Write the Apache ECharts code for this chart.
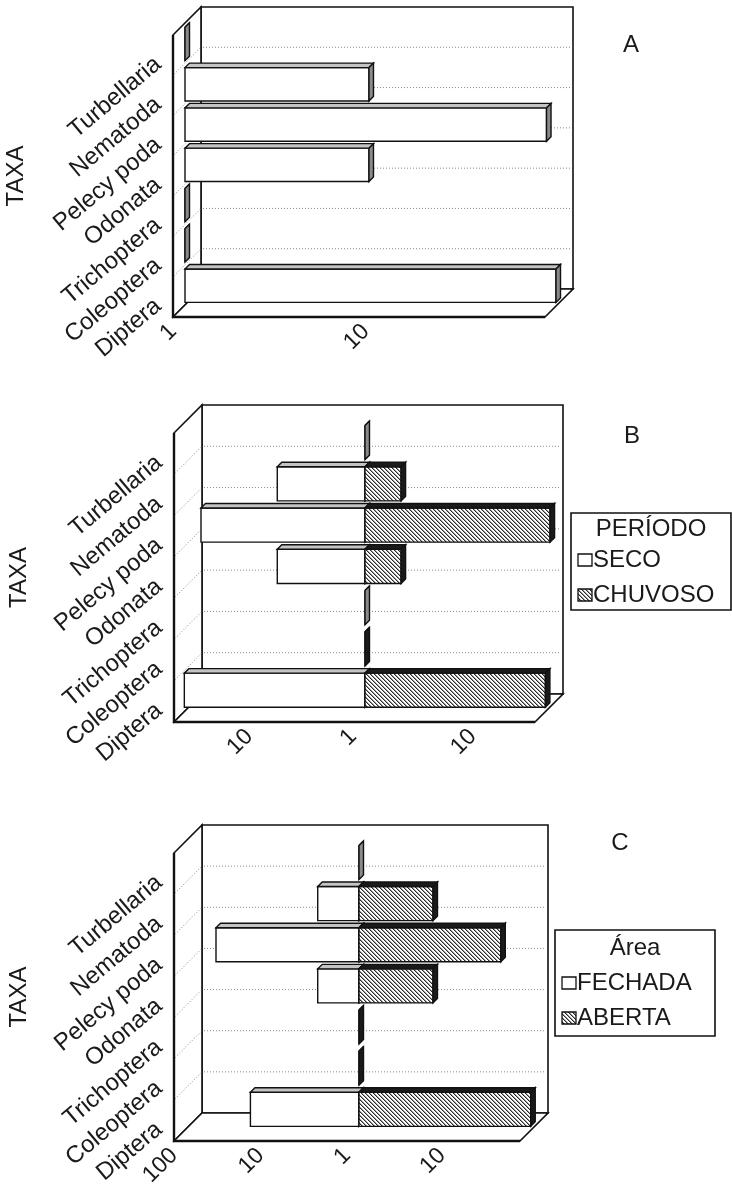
<!DOCTYPE html>
<html><head><meta charset="utf-8">
<script src="https://cdn.jsdelivr.net/npm/echarts@6/dist/echarts.min.js"></script>
<style>html,body{margin:0;padding:0;background:#fff}#c{width:732px;height:1189px}</style>
</head><body><div id="c"></div>
<script>
// ---------- data ----------
const taxa = ['Turbellaria', 'Nematoda', 'Pelecy poda', 'Odonata', 'Trichoptera', 'Coleoptera', 'Diptera'];
const totalA  = [1, 9, 75, 9, 1, 1, 84];
const seco    = [1, 7, 38, 7, 1, 0, 55];
const chuvoso = [0, 2, 35, 2, 0, 1, 32];
const fechada = [1, 3, 45, 3, 0, 0, 18];
const aberta  = [0, 6, 31, 6, 1, 1, 64];
const ticksA = [1, 10];
const ticksBLeft = [10];
const ticksBRight = [1, 10];
const ticksCLeft = [100, 10];
const ticksCRight = [1, 10];
const legendB = ['PERÍODO', 'SECO', 'CHUVOSO'];
const legendC = ['Área', 'FECHADA', 'ABERTA'];
const panelNames = ['A', 'B', 'C'];
const axisName = 'TAXA';

// ---------- layout ----------
const FONT = "'Liberation Sans', Arial, sans-serif";
const DEPTH = 28;          // wall depth (px)
const BAR_OFF = 12;        // bar front plane offset
const BAR_D = 4.5;         // bar depth
const PA = {L: 173, T: 35, R: 545, B: 317};
const PB = {L: 174, T: 433, M: 353, R: 535, B: 722};
const PC = {L: 174, T: 853, M: 347, R: 520, B: 1141};
const AX = {A: 85, BL: 53, BR: 33, CL: 100, CR: 66};

function hatch() {
  const c = document.createElement('canvas');
  c.width = 4; c.height = 4;
  const g = c.getContext('2d');
  g.fillStyle = '#fff'; g.fillRect(0, 0, 4, 4);
  g.fillStyle = '#2a2a2a';
  for (let i = 0; i < 4; i++) g.fillRect(i, i, 1, 1);
  g.fillStyle = '#9a9a9a';
  for (let i = 0; i < 4; i++) g.fillRect((i + 1) % 4, i, 1, 1);
  return c;
}
const HATCH = {image: hatch(), repeat: 'repeat'};

const STY = {
  plain: {front: '#fff', top: '#c4c4c4', side: '#8a8a8a'},
  dark:  {front: HATCH,  top: '#1a1a1a', side: '#1a1a1a'}
};

function grid(l, t, r, b) {
  return {left: l, top: t, width: r - l, height: b - t, containLabel: false, outerBoundsMode: 'none'};
}
function tickFmt(list) {
  return v => list.some(t => Math.abs(v - t) < 1e-6 * t) ? String(Math.round(v)) : '';
}
function hiddenX(gi) { return {type: 'value', gridIndex: gi, min: 0, max: 1, show: false}; }
function logX(gi, max, inverse, ticks) {
  return {
    type: 'log', logBase: 10, gridIndex: gi, min: 1, max: max, inverse: inverse,
    axisLine: {show: false}, axisTick: {show: false}, splitLine: {show: false},
    axisLabel: {show: true, rotate: 45, margin: 11, fontSize: 23, color: '#1a1a1a',
      fontFamily: FONT, formatter: tickFmt(ticks)}
  };
}
function catY(gi, labels) {
  const base = {type: 'category', gridIndex: gi, data: taxa, inverse: true,
    axisLine: {show: false}, axisTick: {show: false}, splitLine: {show: false}};
  if (!labels) return Object.assign(base, {axisLabel: {show: false}});
  return Object.assign(base, {
    axisLabel: {show: true, rotate: 40, margin: 20, fontSize: 24, lineHeight: 16,
      formatter: v => '\n' + v,
      color: '#1a1a1a', fontFamily: FONT, interval: 0},
    name: axisName, nameLocation: 'middle', nameRotate: 90, nameGap: 143,
    nameTextStyle: {fontSize: 24, color: '#1a1a1a', fontFamily: FONT}
  });
}

function frameRender(params, api) {
  const cs = params.coordSys;
  const L = cs.x, T = cs.y, R = cs.x + cs.width, B = cs.y + cs.height, D = DEPTH;
  const bh = cs.height / taxa.length;
  const wall = {fill: '#fff', stroke: '#111', lineWidth: 1.6};
  const dot = {stroke: '#8a8a8a', lineWidth: 1, lineDash: [1, 2]};
  const ch = [];
  ch.push({type: 'rect', shape: {x: L + D, y: T - D, width: R - L, height: B - T}, style: wall});
  for (let k = 1; k < taxa.length; k++) {
    const y = T + k * bh - D;
    ch.push({type: 'line', shape: {x1: L + D + 2, y1: y, x2: R + D - 2, y2: y}, style: dot});
  }
  ch.push({type: 'polygon', shape: {points: [[L, T], [L + D, T - D], [L + D, B - D], [L, B]]}, style: wall});
  for (let k = 1; k < taxa.length; k++) {
    const y = T + k * bh;
    ch.push({type: 'line', shape: {x1: L + 1, y1: y - 1, x2: L + D - 1, y2: y - D + 1}, style: dot});
  }
  ch.push({type: 'polygon', shape: {points: [[L, B], [L + D, B - D], [R + D, B - D], [R, B]]}, style: wall});
  ch.push({type: 'line', shape: {x1: L, y1: T, x2: L, y2: B}, style: {stroke: '#111', lineWidth: 2.4}});
  ch.push({type: 'line', shape: {x1: L, y1: B, x2: R, y2: B}, style: {stroke: '#111', lineWidth: 2.4}});
  return {type: 'group', children: ch};
}

function barRender(sty) {
  return function (params, api) {
    const v = api.value(0), i = api.value(1);
    const cs = params.coordSys;
    const bh = cs.height / taxa.length;
    const p0 = api.coord([1, i]);
    const p1 = api.coord([v, i]);
    const cy = p0[1] - BAR_OFF;
    const fTop = cy - 0.393 * bh, fBot = cy + 0.435 * bh;
    const xa = Math.min(p0[0], p1[0]) + BAR_OFF, xb = Math.max(p0[0], p1[0]) + BAR_OFF;
    const d = BAR_D;
    const line = {stroke: '#111', lineWidth: 1.4};
    return {type: 'group', children: [
      {type: 'rect', shape: {x: xa, y: fTop, width: xb - xa, height: fBot - fTop},
        style: Object.assign({fill: sty.front}, line)},
      {type: 'polygon', shape: {points: [[xa, fTop], [xb, fTop], [xb + d, fTop - d], [xa + d, fTop - d]]},
        style: Object.assign({fill: sty.top}, line)},
      {type: 'polygon', shape: {points: [[xb, fTop], [xb + d, fTop - d], [xb + d, fBot - d], [xb, fBot]]},
        style: Object.assign({fill: sty.side}, line)}
    ]};
  };
}
function pts(arr) {
  const out = [];
  arr.forEach((v, i) => { if (v > 0) out.push([v, i]); });
  return out;
}
function frameSeries(ai) {
  return {type: 'custom', xAxisIndex: ai, yAxisIndex: ai, data: [[0, 0]], renderItem: frameRender, silent: true, z: 1};
}
function barSeries(ai, arr, sty, name) {
  return {type: 'custom', name: name, xAxisIndex: ai, yAxisIndex: ai, data: pts(arr),
    encode: {x: 0, y: 1}, renderItem: barRender(sty), silent: true, z: 2, clip: false};
}

const grids = [
  grid(PA.L, PA.T, PA.R, PA.B), grid(PA.L, PA.T, PA.R, PA.B),
  grid(PB.L, PB.T, PB.R, PB.B), grid(PB.L, PB.T, PB.M, PB.B), grid(PB.M, PB.T, PB.R, PB.B),
  grid(PC.L, PC.T, PC.R, PC.B), grid(PC.L, PC.T, PC.M, PC.B), grid(PC.M, PC.T, PC.R, PC.B)
];
const xAxes = [
  hiddenX(0), logX(1, AX.A, false, ticksA),
  hiddenX(2), logX(3, AX.BL, true, ticksBLeft), logX(4, AX.BR, false, ticksBRight),
  hiddenX(5), logX(6, AX.CL, true, ticksCLeft), logX(7, AX.CR, false, ticksCRight)
];
const yAxes = [
  catY(0, true), catY(1, false),
  catY(2, true), catY(3, false), catY(4, false),
  catY(5, true), catY(6, false), catY(7, false)
];
const series = [
  frameSeries(0), barSeries(1, totalA, STY.plain, 'TOTAL'),
  frameSeries(2), barSeries(3, seco, STY.plain, legendB[1]), barSeries(4, chuvoso, STY.dark, legendB[2]),
  frameSeries(5), barSeries(6, fechada, STY.plain, legendC[1]), barSeries(7, aberta, STY.dark, legendC[2])
];

function txt(x, y, s, size, align) {
  return {type: 'text', x: x, y: y, z: 10,
    style: {text: s, fontSize: size, fontFamily: FONT, fill: '#1a1a1a', textAlign: align || 'left', textVerticalAlign: 'middle', verticalAlign: 'middle'}};
}
function legendBox(x, y, w, h, labels, ys) {
  const box = {stroke: '#111', lineWidth: 1.6};
  return [
    {type: 'rect', z: 9, shape: {x: x, y: y, width: w, height: h}, style: Object.assign({fill: '#fff'}, box)},
    txt(x + w / 2, ys[0], labels[0], 24, 'center'),
    {type: 'rect', z: 10, shape: {x: x + 7, y: ys[1] - 6, width: 14, height: 12}, style: {fill: '#fff', stroke: '#111', lineWidth: 1.3}},
    txt(x + 22, ys[1], labels[1], 24),
    {type: 'rect', z: 10, shape: {x: x + 7, y: ys[2] - 6, width: 14, height: 12}, style: {fill: HATCH, stroke: '#111', lineWidth: 1.3}},
    txt(x + 22, ys[2], labels[2], 24)
  ];
}

const graphic = [].concat(
  [txt(631, 45, panelNames[0], 24, 'center'), txt(632, 436, panelNames[1], 24, 'center'), txt(620, 843, panelNames[2], 24, 'center')],
  legendBox(571, 513, 160, 97, legendB, [529, 560, 595]),
  legendBox(555, 930, 160, 106, legendC, [948, 983, 1018])
);

const chart = echarts.init(document.getElementById('c'), null, {renderer: 'canvas'});
chart.setOption({
  animation: false,
  backgroundColor: '#fff',
  textStyle: {fontFamily: FONT},
  grid: grids, xAxis: xAxes, yAxis: yAxes, series: series, graphic: graphic
});
</script></body></html>
